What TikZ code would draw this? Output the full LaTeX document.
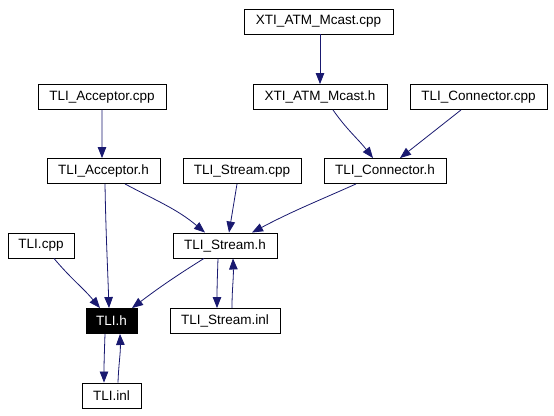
\documentclass[tikz,border=0pt]{standalone}
\usepackage{fontspec}
\setmainfont{Liberation Sans}
\usetikzlibrary{arrows.meta}
\definecolor{edgeblue}{HTML}{191970}
\tikzset{
  box/.style={draw=black, line width=0.9bp, fill=white, inner sep=0pt, minimum height=25bp,
    font=\fontsize{13.5bp}{15bp}\selectfont, anchor=center},
  focus/.style={box, fill=black, text=white},
  dep/.style={draw=edgeblue, line width=0.8bp, -{Triangle[length=11bp,width=8.5bp]}}
}
\begin{document}
\begin{tikzpicture}[x=1bp,y=-1bp]
\useasboundingbox (0,0) rectangle (554,415);
\fill[white] (0,0) rectangle (554,415);
% row 1
\node[box, minimum width=149bp] (mcastcpp) at (318.5,21.5) {XTI\_ATM\_Mcast.cpp};
% row 2
\node[box, minimum width=128bp] (acccpp) at (102,97) {TLI\_Acceptor.cpp};
\node[box, minimum width=134bp] (mcasth) at (320,97) {XTI\_ATM\_Mcast.h};
\node[box, minimum width=137bp] (conncpp) at (478.5,97) {TLI\_Connector.cpp};
% row 3
\node[box, minimum width=113bp] (acch) at (103.5,171) {TLI\_Acceptor.h};
\node[box, minimum width=118bp] (streamcpp) at (242,171) {TLI\_Stream.cpp};
\node[box, minimum width=122bp] (connh) at (385,171) {TLI\_Connector.h};
% row 4
\node[box, minimum width=66bp] (tlicpp) at (41,245.5) {TLI.cpp};
\node[box, minimum width=104bp] (streamh) at (225,245.5) {TLI\_Stream.h};
% row 5
\node[focus, minimum width=51bp] (tlih) at (111.5,321) {TLI.h};
\node[box, minimum width=110bp] (streaminl) at (225,321) {TLI\_Stream.inl};
% row 6
\node[box, minimum width=59bp] (tliinl) at (111.5,395.5) {TLI.inl};
% edges
\draw[dep] ([xshift=1.5bp]mcastcpp.south) -- (mcasth.north);
\draw[dep] (acccpp.south) -- ([xshift=-1.5bp]acch.north);
\draw[dep] ([xshift=13bp]mcasth.south) to[out=-55,in=128] ([xshift=-12bp]connh.north);
\draw[dep] ([xshift=-17.5bp]conncpp.south) -- ([xshift=15bp]connh.north);
\draw[dep] ([xshift=1.5bp]acch.south) to[out=-89,in=92] ([xshift=-2.5bp]tlih.north);
\draw[dep] ([xshift=21.5bp]acch.south) to[out=-28,in=140] ([xshift=-20bp]streamh.north);
\draw[dep] ([xshift=-5bp]streamcpp.south) -- ([xshift=4bp]streamh.north);
\draw[dep] ([xshift=-29bp]connh.south) to[out=-156,in=28] ([xshift=27bp]streamh.north);
\draw[dep] ([xshift=13bp]tlicpp.south) to[out=-50,in=130] ([xshift=-11.5bp]tlih.north);
\draw[dep] ([xshift=-21bp]streamh.south) to[out=-148,in=37] ([xshift=20.5bp]tlih.north);
\draw[dep] ([xshift=-7bp]streamh.south) to[out=-92,in=90] ([xshift=-8bp]streaminl.north);
\draw[dep] ([xshift=7bp]streaminl.north) to[out=90,in=-88] ([xshift=8bp]streamh.south);
\draw[dep] ([xshift=-6.5bp]tlih.south) to[out=-92,in=90] ([xshift=-7.5bp]tliinl.north);
\draw[dep] ([xshift=6.5bp]tliinl.north) to[out=88,in=-88] ([xshift=8.5bp]tlih.south);
\end{tikzpicture}
\end{document}
